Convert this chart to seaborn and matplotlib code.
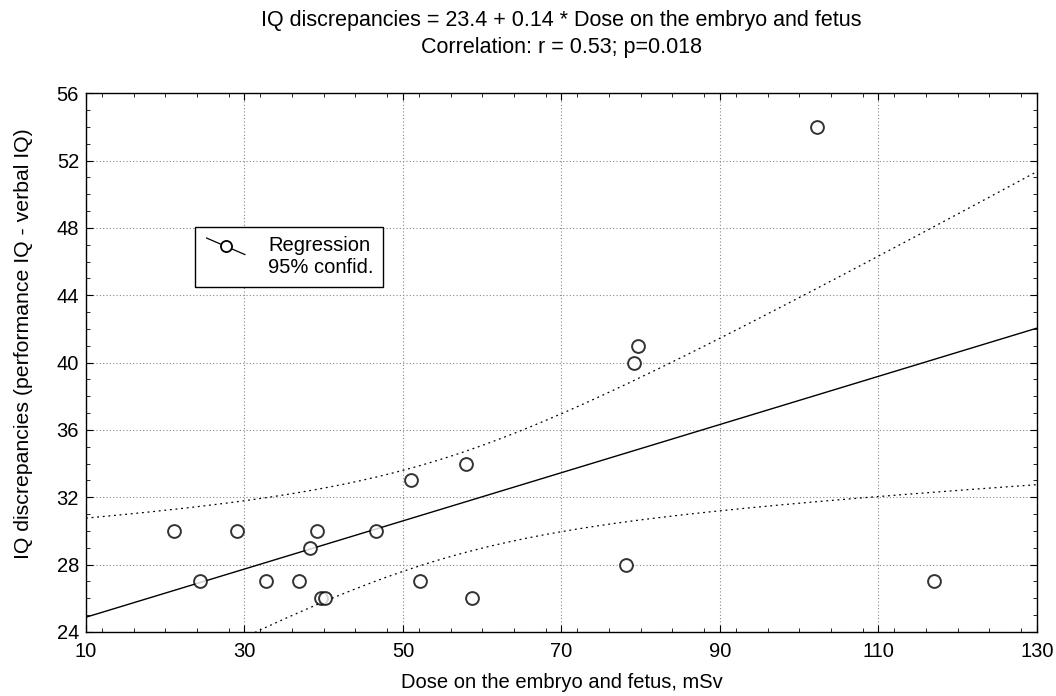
import numpy as np
import pandas as pd
import matplotlib
matplotlib.use("Agg")
import matplotlib.pyplot as plt
import seaborn as sns
from matplotlib.ticker import MultipleLocator
from matplotlib.lines import Line2D
from matplotlib.legend_handler import HandlerBase

dose = [21.1, 24.4, 29.0, 32.7, 36.9, 38.3, 39.2, 39.6, 40.1, 46.6,
        51.0, 52.1, 58.0, 58.7, 78.1, 79.2, 79.7, 102.3, 117.0]
iq_diff = [30, 27, 30, 27, 27, 29, 30, 26, 26, 30,
           33, 27, 34, 26, 28, 40, 41, 54, 27]
x_ticks = [10, 30, 50, 70, 90, 110, 130]
y_ticks = [24, 28, 32, 36, 40, 44, 48, 52, 56]
title_text = "IQ discrepancies = 23.4 + 0.14 * Dose on the embryo and fetus\nCorrelation: r = 0.53; p=0.018"
x_label = "Dose on the embryo and fetus, mSv"
y_label = "IQ discrepancies (performance IQ - verbal IQ)"
t_crit = 2.1098  # t(0.975, df=17)

df = pd.DataFrame({"dose": dose, "iq": iq_diff})

sns.set_style("white")
plt.rcParams['font.family'] = ['Liberation Sans', 'DejaVu Sans']
for k in ["text.color", "axes.labelcolor", "xtick.color", "ytick.color"]:
    plt.rcParams[k] = "black"

fs = 14.5


class SlantHandler(HandlerBase):
    def create_artists(self, legend, orig_handle, xdescent, ydescent,
                       width, height, fontsize, trans):
        x0 = -xdescent + 0.05 * width
        x1 = -xdescent + 0.85 * width
        xc = 0.5 * (x0 + x1)
        yc = height / 2 - ydescent + 8.0
        ln = Line2D([x0, x1], [yc + 6, yc - 6], color="black", lw=0.9, transform=trans)
        mk = Line2D([xc], [yc], ls="none", marker="o", markersize=8,
                    markerfacecolor="white", markeredgecolor="black",
                    markeredgewidth=1.3, transform=trans)
        return [ln, mk]


fig = plt.figure(figsize=(10.56, 6.96), dpi=100)
ax = fig.add_axes([0.0814, 0.092, 0.9006, 0.774])
ax.set_xlim(x_ticks[0], x_ticks[-1])
ax.set_ylim(y_ticks[0], y_ticks[-1])

sns.regplot(data=df, x="dose", y="iq", ax=ax, ci=None, truncate=False,
            scatter_kws=dict(s=85, facecolors="white", edgecolors="black", linewidths=1.4, zorder=3),
            line_kws=dict(color="black", lw=1.0, zorder=2))

# 95% confidence bands
xa = np.array(dose); ya = np.array(iq_diff)
n = len(xa)
b, a = np.polyfit(xa, ya, 1)
resid = ya - (a + b * xa)
s = np.sqrt(np.sum(resid ** 2) / (n - 2))
xm = xa.mean(); sxx = np.sum((xa - xm) ** 2)
xg = np.linspace(x_ticks[0], x_ticks[-1], 300)
yg = a + b * xg
half = t_crit * s * np.sqrt(1.0 / n + (xg - xm) ** 2 / sxx)
ax.plot(xg, yg + half, color="black", lw=0.9, ls=(0, (1.5, 3)), zorder=2)
ax.plot(xg, yg - half, color="black", lw=0.9, ls=(0, (1.5, 3)), zorder=2)

ax.set_xticks(x_ticks)
ax.set_yticks(y_ticks)
ax.xaxis.set_minor_locator(MultipleLocator(4))
ax.yaxis.set_minor_locator(MultipleLocator(1))
ax.tick_params(which="both", direction="in", top=True, right=True, bottom=True, left=True,
               labelsize=fs, color="black")
ax.tick_params(which="major", length=5)
ax.tick_params(which="minor", length=3)
ax.tick_params(axis="x", pad=7)
ax.tick_params(axis="y", pad=5)
ax.grid(True, which="major", color="#888888", ls=(0, (1, 2)), lw=0.8)
for sp in ax.spines.values():
    sp.set_color("black"); sp.set_linewidth(1.0)

ax.set_xlabel(x_label, fontsize=fs, labelpad=9)
ax.set_ylabel(y_label, fontsize=15.3)
ax.yaxis.set_label_coords(-0.056, 0.536)
ax.set_title(title_text, fontsize=15.5, linespacing=1.38, pad=29)

proxy = Line2D([], [])
leg = ax.legend([proxy], ["Regression\n95% confid."], loc="upper left",
                bbox_to_anchor=(0.1146, 0.751), fancybox=False, framealpha=1,
                edgecolor="black", fontsize=fs, borderpad=0.45, handlelength=2.4,
                borderaxespad=0, labelspacing=0.1, handler_map={Line2D: SlantHandler()})
leg.get_frame().set_linewidth(1.0)

fig.savefig("out.png", dpi=100)
